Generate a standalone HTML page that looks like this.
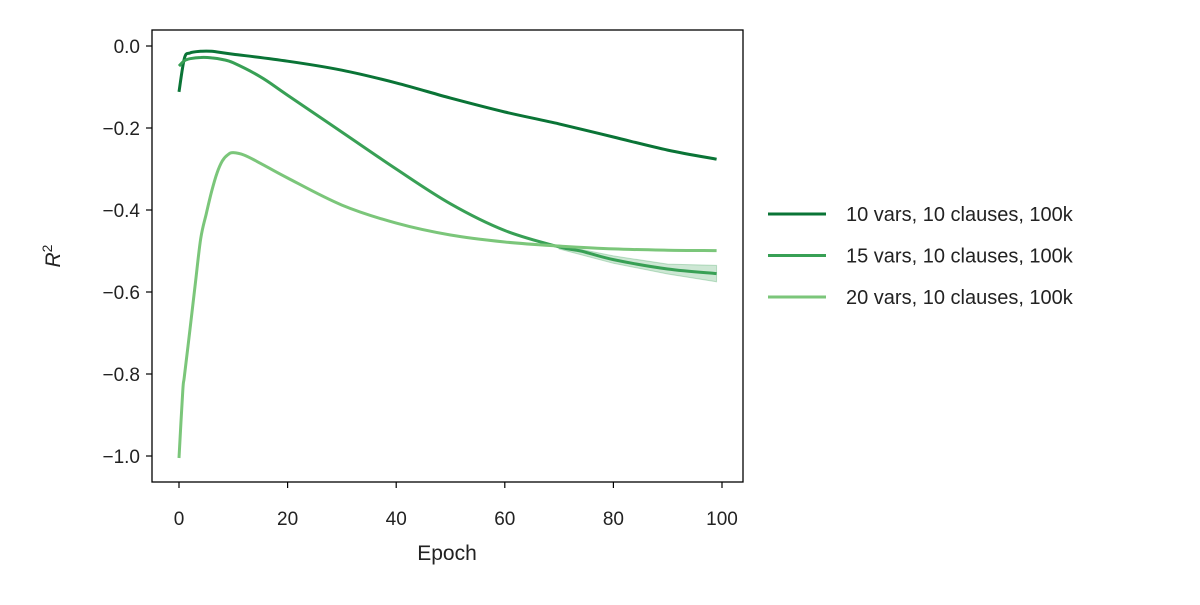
<!DOCTYPE html>
<html><head><meta charset="utf-8"><style>
body{margin:0;background:#fff;}
svg text{font-family:"Liberation Sans",sans-serif;fill:#222;}
</style></head><body>
<svg width="1200" height="600" viewBox="0 0 1200 600">
<g id="plot"></g>
</svg>
<script>
const epochs1 = [0,1,2,4,6,10,20,30,40,50,60,70,80,90,99];
const r2_10vars = [-0.112,-0.03,-0.017,-0.013,-0.013,-0.02,-0.037,-0.059,-0.09,-0.127,-0.161,-0.19,-0.222,-0.254,-0.276];
const epochs2 = [0,1,2,4,6,8,10,15,20,30,40,50,60,70,74,80,90,99];
const r2_15vars = [-0.049,-0.036,-0.031,-0.028,-0.029,-0.033,-0.041,-0.075,-0.12,-0.21,-0.3,-0.385,-0.45,-0.49,-0.5,-0.521,-0.544,-0.555];
const epochs3 = [0,0.7,1,2,3,4,5,6,7,8,9,10,12,15,20,30,40,50,60,70,80,90,99];
const r2_20vars = [-1.005,-0.84,-0.805,-0.693,-0.58,-0.47,-0.41,-0.355,-0.31,-0.28,-0.265,-0.26,-0.266,-0.286,-0.322,-0.388,-0.432,-0.461,-0.478,-0.488,-0.495,-0.498,-0.499];
const bandEpochs = [70,80,90,99];
const band15Low = [-0.495,-0.53,-0.556,-0.575];
const band15High = [-0.485,-0.512,-0.532,-0.535];
const xTicks = [0,20,40,60,80,100];
const yTicks = [0,-0.2,-0.4,-0.6,-0.8,-1.0];
const yTickLabels = ["0.0","\u22120.2","\u22120.4","\u22120.6","\u22120.8","\u22121.0"];
const seriesNames = ["10 vars, 10 clauses, 100k","15 vars, 10 clauses, 100k","20 vars, 10 clauses, 100k"];
const colors = ["#0a7436","#38a055","#7bc67a"];

const NS="http://www.w3.org/2000/svg";
const g=document.getElementById('plot');
const X=e=>179+e*5.43;
const Y=v=>46-v*410;
function mk(t,a,p){const el=document.createElementNS(NS,t);for(const k in a)el.setAttribute(k,a[k]);(p||g).appendChild(el);return el;}
function smooth(P){
 let d='M'+P[0][0].toFixed(1)+','+P[0][1].toFixed(1);
 for(let i=0;i<P.length-1;i++){
  const p0=P[Math.max(0,i-1)],p1=P[i],p2=P[i+1],p3=P[Math.min(P.length-1,i+2)];
  const c1=[p1[0]+(p2[0]-p0[0])/6,p1[1]+(p2[1]-p0[1])/6];
  const c2=[p2[0]-(p3[0]-p1[0])/6,p2[1]-(p3[1]-p1[1])/6];
  d+=' C'+c1.map(v=>v.toFixed(1)).join(',')+' '+c2.map(v=>v.toFixed(1)).join(',')+' '+p2[0].toFixed(1)+','+p2[1].toFixed(1);
 }
 return d;
}

const frame=mk('rect',{x:152,y:30,width:591,height:452,fill:'none',stroke:'#000','stroke-width':1.3});



xTicks.forEach(t=>{
 const l=mk('line',{x1:X(t),x2:X(t),y1:482,y2:488,stroke:'#000','stroke-width':1.2});
 
 
 const tx=mk('text',{x:X(t),y:525,'text-anchor':'middle','font-size':19});
 tx.textContent=t;
 
 
});
yTicks.forEach((t,i)=>{
 const l=mk('line',{x1:146,x2:152,y1:Y(t),y2:Y(t),stroke:'#000','stroke-width':1.2});
 
 
 const tx=mk('text',{x:140,y:Y(t)+7,'text-anchor':'end','font-size':19});
 tx.textContent=yTickLabels[i];
 
 
});
const xt=mk('text',{x:447,y:560,'text-anchor':'middle','font-size':21});
xt.textContent='Epoch';


const yt=mk('text',{x:0,y:0,'text-anchor':'middle','font-size':21,transform:'translate(60,256) rotate(-90)'});
yt.innerHTML='<tspan font-style="italic">R</tspan><tspan dy="-8" font-size="14">2</tspan>';



const bandPts=bandEpochs.map((e,j)=>X(e)+','+Y(band15High[j])).concat(bandEpochs.slice().reverse().map((e,j)=>X(e)+','+Y(band15Low[bandEpochs.length-1-j])));
const band=mk('polygon',{points:bandPts.join(' '),fill:colors[1],'fill-opacity':0.25,stroke:colors[1],'stroke-opacity':0.3});



const data=[[epochs1,r2_10vars],[epochs2,r2_15vars],[epochs3,r2_20vars]];
data.forEach((d,i)=>{
 const P=d[0].map((e,j)=>[X(e),Y(d[1][j])]);
 const p=mk('path',{d:smooth(P),fill:'none',stroke:colors[i],'stroke-width':3,'stroke-linejoin':'round'});
 
 
 const ly=214+i*41.5;
 const ll=mk('line',{x1:768,x2:826,y1:ly,y2:ly,stroke:colors[i],'stroke-width':3});
 
 
 const lt=mk('text',{x:846,y:ly+7,'font-size':20});
 lt.textContent=seriesNames[i];
 
 
});
</script>
</body></html>
